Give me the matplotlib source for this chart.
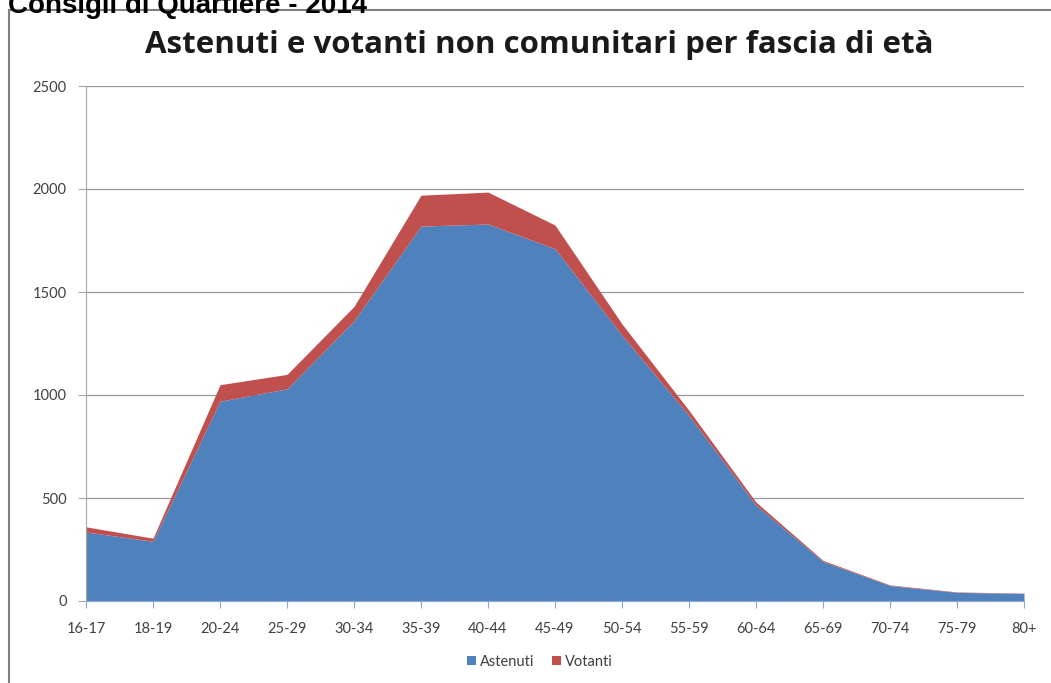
import matplotlib.pyplot as plt
import numpy as np

# fasce di età e valori
fasce = ["16-17", "18-19", "20-24", "25-29", "30-34", "35-39", "40-44", "45-49",
         "50-54", "55-59", "60-64", "65-69", "70-74", "75-79", "80+"]
astenuti = [335, 290, 970, 1030, 1360, 1820, 1830, 1710, 1290, 900, 465, 192, 75, 42, 36]
votanti = [25, 15, 80, 70, 70, 150, 155, 115, 55, 25, 15, 5, 3, 2, 2]

plt.rcParams['font.family'] = ['Lato', 'DejaVu Sans']

fig = plt.figure(figsize=(10.51, 6.83), dpi=100)

# cornice (solo lato sinistro e superiore visibili)
fig.add_artist(plt.Line2D([8.5 / 1051, 8.5 / 1051], [0, 1 - 10 / 683], color="#7f7f7f", lw=1.5))
fig.add_artist(plt.Line2D([8.5 / 1051, 1], [1 - 10 / 683, 1 - 10 / 683], color="#7f7f7f", lw=1.5))

# intestazione (tagliata in alto come nell'originale)
fig.text(8 / 1051, 1 - 13 / 683, "Consigli di Quartiere - 2014", fontsize=20, fontweight="bold",
         family="Liberation Sans", va="baseline", ha="left", color="black")

ax = fig.add_axes([86 / 1051, 1 - 601 / 683, (1024 - 86) / 1051, (601 - 86) / 683])

x = np.arange(len(fasce))
ast = np.array(astenuti)
tot = ast + np.array(votanti)

ax.fill_between(x, 0, ast, color="#4F81BD", lw=0, label="Astenuti", zorder=2)
ax.fill_between(x, ast, tot, color="#C0504D", lw=0, label="Votanti", zorder=2)

ax.set_xlim(0, len(fasce) - 1)
ax.set_ylim(0, 2500)
ax.set_yticks(range(0, 2501, 500))
ax.set_xticks(x)
ax.set_xticklabels(fasce)
ax.grid(axis="y", color="#9a9a9a", lw=0.9, zorder=0)
ax.set_axisbelow(True)

for s in ["top", "right"]:
    ax.spines[s].set_visible(False)
ax.spines["left"].set_color("#a6a6a6")
ax.spines["bottom"].set_color("#8ea6c8")
ax.tick_params(axis="y", length=6, color="#a6a6a6", labelsize=10.5, labelcolor="#404040", pad=8)
ax.tick_params(axis="x", length=5, color="#8ea6c8", labelsize=10.5, labelcolor="#404040", pad=10)

fig.text(539 / 1051, 1 - 45 / 683, "Astenuti e votanti non comunitari per fascia di età",
         fontsize=22.5, fontweight="bold", ha="center", va="center", color="#1a1a1a",
         family="Open Sans")

fig.legend(loc="center", bbox_to_anchor=(540 / 1051, 1 - 662 / 683), ncol=2, frameon=False,
           fontsize=10.5, handlelength=0.6, handleheight=0.6, handletextpad=0.3,
           columnspacing=1.2, labelcolor="#404040")

plt.savefig("out.png", dpi=100)
